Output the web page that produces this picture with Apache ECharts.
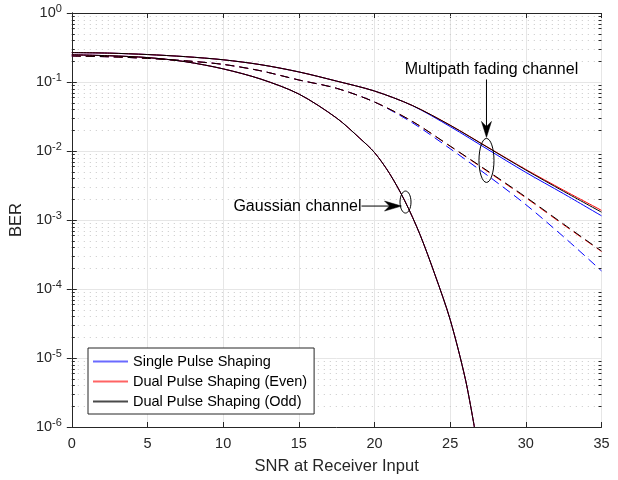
<!DOCTYPE html>
<html><head><meta charset="utf-8">
<script src="https://cdn.jsdelivr.net/npm/echarts@6/dist/echarts.min.js"></script>
<style>html,body{margin:0;padding:0;background:#fff}#c{width:618px;height:480px}</style>
</head><body><div id="c"></div>
<script>
// ---- data ----
const snrFading = [0, 2.5, 5, 7.5, 10, 12.5, 15, 17.5, 20, 22.5, 25, 27.5, 30, 32.5, 35];
// Multipath fading channel, solid
const singleSolid = [0.267, 0.262, 0.25, 0.233, 0.21, 0.178, 0.14, 0.103, 0.074, 0.0455, 0.0226, 0.0105, 0.0049, 0.0024, 0.00115];
const evenSolid   = [0.267, 0.262, 0.25, 0.233, 0.21, 0.178, 0.14, 0.103, 0.074, 0.0457, 0.0237, 0.0113, 0.0054, 0.0027, 0.00138];
const oddSolid    = [0.267, 0.262, 0.25, 0.233, 0.21, 0.178, 0.14, 0.103, 0.074, 0.0457, 0.0236, 0.0112, 0.0053, 0.0026, 0.0013];
// Multipath fading channel, dashed
const singleDashed = [0.238, 0.232, 0.22, 0.203, 0.18, 0.145, 0.107, 0.081, 0.0513, 0.0257, 0.0108, 0.00437, 0.00167, 0.00057, 0.000183];
const evenDashed   = [0.238, 0.232, 0.22, 0.203, 0.18, 0.145, 0.107, 0.081, 0.0513, 0.0269, 0.0117, 0.0050, 0.0021, 0.00085, 0.00035];
const oddDashed    = [0.238, 0.232, 0.22, 0.203, 0.18, 0.145, 0.107, 0.081, 0.0513, 0.0269, 0.0118, 0.0051, 0.00215, 0.00087, 0.000355];
// Gaussian channel
const snrGauss = [0, 2.5, 5, 7.5, 10, 12.5, 15, 17.5, 19, 20, 21, 22, 23, 24, 25, 26, 26.6];
const gaussBER = [0.248, 0.24, 0.226, 0.197, 0.155, 0.11, 0.067, 0.03, 0.0155, 0.0095, 0.0047, 0.0019, 0.00062, 0.00016, 0.000036, 0.000005, 0.000001];
// tick / legend / annotation texts
const legendNames = ['Single Pulse Shaping', 'Dual Pulse Shaping (Even)', 'Dual Pulse Shaping (Odd)'];
const minorMantissa = [2, 3, 4, 5, 6, 7, 8, 9];
const decades = [-6, -5, -4, -3, -2, -1];
const annFading = {text: 'Multipath fading channel', at: [27.4, 0.0073]};
const annGauss = {text: 'Gaussian channel', at: [22.05, 0.00182]};

const zip = (xs, ys) => xs.map((x, i) => [x, ys[i]]);
const BLUE = '#0000ff', RED = '#ff0000', BLACK = '#000000';
const legendColors = ['#6a6aff', '#ff6464', '#4a4a4a'];
const AX = '#262626';

function mk(name, xs, ys, color, dashed) {
  return {
    name, type: 'line', data: zip(xs, ys), showSymbol: false, symbol: 'none',
    smooth: 0.3, xAxisIndex: 0, yAxisIndex: 0, silent: true,
    lineStyle: {color, width: 1, type: dashed ? [9, 5] : 'solid'},
    itemStyle: {color}
  };
}

const chart = echarts.init(document.getElementById('c'), null, {renderer: 'canvas'});
const FONT = '"Liberation Sans", Arial, Helvetica, sans-serif';

const option = {
  animation: false,
  backgroundColor: '#fff',
  textStyle: {fontFamily: FONT},
  grid: {left: 71.5, right: 16.5, top: 13, bottom: 49, show: false},
  xAxis: [{
    type: 'value', min: 0, max: 35, interval: 5, position: 'bottom',
    axisLine: {show: true, lineStyle: {color: AX, width: 1}},
    axisTick: {inside: true, length: 5, lineStyle: {color: AX}},
    axisLabel: {fontSize: 14.5, color: AX, margin: 9, fontFamily: FONT},
    splitLine: {show: true, lineStyle: {color: '#e6e6e6', width: 1}},
    name: 'SNR at Receiver Input', nameLocation: 'middle', nameGap: 31,
    nameTextStyle: {fontSize: 16.5, color: AX, fontFamily: FONT}
  }, {
    type: 'value', min: 0, max: 35, interval: 5, position: 'top',
    axisLine: {show: true, lineStyle: {color: AX, width: 1}},
    axisTick: {inside: true, length: 5, lineStyle: {color: AX}},
    axisLabel: {show: false}, splitLine: {show: false}
  }],
  yAxis: [{
    type: 'log', logBase: 10, min: 1e-6, max: 1, splitNumber: 6, position: 'left',
    axisLine: {show: true, lineStyle: {color: AX, width: 1}},
    axisTick: {inside: true, length: 5, lineStyle: {color: AX}},
    splitLine: {show: true, lineStyle: {color: '#e6e6e6', width: 1}},
    axisLabel: {
      margin: 10, color: AX,
      formatter: v => '{b|10}{s|' + Math.round(Math.log10(v)) + '}',
      rich: {
        b: {fontSize: 14.5, color: AX, fontFamily: FONT},
        s: {fontSize: 11, color: AX, fontFamily: FONT, verticalAlign: 'bottom', padding: [0, 0, 9, 0]}
      }
    },
    name: 'BER', nameLocation: 'middle', nameGap: 39, nameRotate: 90,
    nameTextStyle: {fontSize: 16.5, color: AX, fontFamily: FONT}
  }, {
    type: 'log', logBase: 10, min: 1e-6, max: 1, splitNumber: 6, position: 'right',
    axisLine: {show: true, lineStyle: {color: AX, width: 1}},
    axisTick: {inside: true, length: 5, lineStyle: {color: AX}},
    axisLabel: {show: false}, splitLine: {show: false}
  }],
  legend: {
    data: legendNames.map((n, i) => ({name: n, icon: 'rect', itemStyle: {color: legendColors[i], borderWidth: 0}})),
    orient: 'vertical', left: 88, top: 348,
    backgroundColor: '#fff', borderColor: AX, borderWidth: 1, borderRadius: 0,
    padding: [6, 7, 5, 5], itemGap: 5, itemWidth: 35, itemHeight: 2,
    textStyle: {fontSize: 14.5, color: '#000', fontFamily: FONT},
    selectedMode: false
  },
  series: [
    mk('single-gauss', snrGauss, gaussBER, BLUE, false),
    mk(legendNames[0], snrFading, singleSolid, BLUE, false),
    mk('single-dashed', snrFading, singleDashed, BLUE, true),
    mk('even-gauss', snrGauss, gaussBER, RED, false),
    mk(legendNames[1], snrFading, evenSolid, RED, false),
    mk('even-dashed', snrFading, evenDashed, RED, true),
    mk('odd-gauss', snrGauss, gaussBER, BLACK, false),
    mk(legendNames[2], snrFading, oddSolid, BLACK, false),
    mk('odd-dashed', snrFading, oddDashed, BLACK, true)
  ]
};
chart.setOption(option);

// ---- minor log grid, minor ticks and annotations ----
function px(x, y) { return chart.convertToPixel({xAxisIndex: 0, yAxisIndex: 0}, [x, y]); }
const x0 = px(0, 1)[0], x1 = px(35, 1)[0];
const g = [];
decades.forEach(d => minorMantissa.forEach(m => {
  const y = Math.round(px(0, m * Math.pow(10, d))[1]) + 0.5;
  g.push({type: 'line', silent: true, z: 1, shape: {x1: x0, y1: y, x2: x1, y2: y},
    style: {stroke: '#c8c8c8', lineWidth: 1, lineDash: [1, 5]}});
  g.push({type: 'line', silent: true, z: 50, shape: {x1: x0, y1: y, x2: x0 + 3, y2: y},
    style: {stroke: AX, lineWidth: 1}});
  g.push({type: 'line', silent: true, z: 50, shape: {x1: x1 - 3, y1: y, x2: x1, y2: y},
    style: {stroke: AX, lineWidth: 1}});
}));

// Fading annotation
const pf = px(annFading.at[0], annFading.at[1]);
g.push({type: 'ellipse', silent: true, z: 60, shape: {cx: pf[0], cy: pf[1], rx: 7.5, ry: 22},
  style: {stroke: '#000', fill: null, lineWidth: 1}});
const tipF = [pf[0], pf[1] - 23];
g.push({type: 'line', silent: true, z: 60, shape: {x1: tipF[0], y1: tipF[1] - 58, x2: tipF[0], y2: tipF[1] - 8},
  style: {stroke: '#000', lineWidth: 1}});
g.push({type: 'polygon', silent: true, z: 60, shape: {points: [
  [tipF[0], tipF[1]], [tipF[0] - 5, tipF[1] - 16], [tipF[0], tipF[1] - 11], [tipF[0] + 5, tipF[1] - 16]]},
  style: {fill: '#000', stroke: '#000', lineWidth: 0.5}});
g.push({type: 'text', silent: true, z: 60, x: tipF[0] + 5, y: tipF[1] - 68,
  style: {text: annFading.text, fontSize: 16, fontFamily: FONT, fill: '#000', align: 'center', verticalAlign: 'middle'}});

// Gaussian annotation
const pg = px(annGauss.at[0], annGauss.at[1]);
g.push({type: 'ellipse', silent: true, z: 60, shape: {cx: pg[0], cy: pg[1], rx: 5.5, ry: 11},
  style: {stroke: '#000', fill: null, lineWidth: 1}});
const tipG = [pg[0] - 4, pg[1] + 4];
g.push({type: 'line', silent: true, z: 60, shape: {x1: tipG[0] - 40, y1: tipG[1], x2: tipG[0] - 10, y2: tipG[1]},
  style: {stroke: '#000', lineWidth: 1}});
g.push({type: 'polygon', silent: true, z: 60, shape: {points: [
  [tipG[0], tipG[1]], [tipG[0] - 17, tipG[1] - 5], [tipG[0] - 12, tipG[1]], [tipG[0] - 17, tipG[1] + 5]]},
  style: {fill: '#000', stroke: '#000', lineWidth: 0.5}});
g.push({type: 'text', silent: true, z: 60, x: tipG[0] - 40, y: tipG[1] + 1,
  style: {text: annGauss.text, fontSize: 16, fontFamily: FONT, fill: '#000', align: 'right', verticalAlign: 'middle'}});

chart.setOption({graphic: {elements: g}});
</script>
</body></html>
